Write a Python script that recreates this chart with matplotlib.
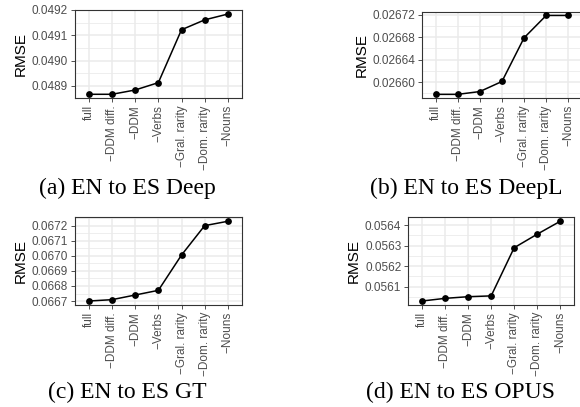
import matplotlib
matplotlib.use("Agg")
import matplotlib.pyplot as plt
import numpy as np

categories = ["full", "\u2212DDM diff.", "\u2212DDM", "\u2212Verbs", "\u2212Gral. rarity", "\u2212Dom. rarity", "\u2212Nouns"]

deep_vals = [0.048867, 0.048867, 0.048884, 0.048913, 0.049122, 0.049161, 0.049184]
deepl_vals = [0.026578, 0.026578, 0.026583, 0.026601, 0.026679, 0.026719, 0.026719]
gt_vals = [0.066700, 0.066709, 0.066740, 0.066771, 0.067006, 0.067202, 0.067231]
opus_vals = [0.056030, 0.056043, 0.056051, 0.056055, 0.056290, 0.056356, 0.056419]

deep_ticks = [0.0489, 0.0490, 0.0491, 0.0492]
deepl_ticks = [0.02660, 0.02664, 0.02668, 0.02672]
gt_ticks = [0.0667, 0.0668, 0.0669, 0.0670, 0.0671, 0.0672]
opus_ticks = [0.0561, 0.0562, 0.0563, 0.0564]

deep_labels = ["0.0489", "0.0490", "0.0491", "0.0492"]
deepl_labels = ["0.02660", "0.02664", "0.02668", "0.02672"]
gt_labels = ["0.0667", "0.0668", "0.0669", "0.0670", "0.0671", "0.0672"]
opus_labels = ["0.0561", "0.0562", "0.0563", "0.0564"]

captions = ["(a) EN to ES Deep", "(b) EN to ES DeepL", "(c) EN to ES GT", "(d) EN to ES OPUS"]

W, H = 580, 407
fig = plt.figure(figsize=(W / 100, H / 100), dpi=100)

# pixel boxes: (x0, x1, ytop, ybottom)
boxes = [(75, 241.7, 10, 98.3), (422.3, 581.6, 11.5, 98.3),
         (75, 241.7, 217.3, 305), (408.3, 574, 217.3, 305)]
cap_pos = [(127, 188), (466, 188), (127, 392), (460, 392)]

series = [deep_vals, deepl_vals, gt_vals, opus_vals]
ticks = [deep_ticks, deepl_ticks, gt_ticks, opus_ticks]
labels = [deep_labels, deepl_labels, gt_labels, opus_labels]

sans = ["Liberation Sans", "DejaVu Sans"]
for i in range(4):
    x0, x1, yt, yb = boxes[i]
    ax = fig.add_axes([x0 / W, 1 - yb / H, (x1 - x0) / W, (yb - yt) / H])
    vals = series[i]
    lo, hi = min(vals), max(vals)
    pad = (hi - lo) * 0.05
    ax.set_ylim(lo - pad, hi + pad)
    ax.set_xlim(-0.6, len(categories) - 0.4)
    xs = np.arange(len(categories))
    ax.plot(xs, vals, color="black", lw=1.1, zorder=3)
    ax.scatter(xs, vals, s=24, color="black", zorder=4, linewidths=0)
    tk = ticks[i]
    step = tk[1] - tk[0]
    minors = [tk[0] - step / 2] + [t + step / 2 for t in tk]
    for m in minors:
        ax.axhline(m, color="#EBEBEB", lw=0.6, zorder=1)
    for t in tk:
        ax.axhline(t, color="#EBEBEB", lw=1.1, zorder=1)
    for x in xs:
        ax.axvline(x, color="#EBEBEB", lw=1.1, zorder=1)
    ax.set_yticks(tk)
    ax.set_yticklabels(labels[i], family=sans, fontsize=8.5, color="#4D4D4D")
    ax.set_xticks(xs)
    ax.set_xticklabels(categories, rotation=90, family=sans, fontsize=8.5, color="#4D4D4D")
    ax.tick_params(length=3, width=0.6, color="#333333", pad=2)
    for s in ax.spines.values():
        s.set_color("#333333")
        s.set_linewidth(0.8)
    ax.set_ylabel("RMSE", family=sans, fontsize=11, color="black", labelpad=3)
    fig.text(cap_pos[i][0] / W, 1 - cap_pos[i][1] / H, captions[i],
             family=["Liberation Serif", "DejaVu Serif"], fontsize=17,
             ha="center", va="center")

fig.savefig("out.png", dpi=100)
